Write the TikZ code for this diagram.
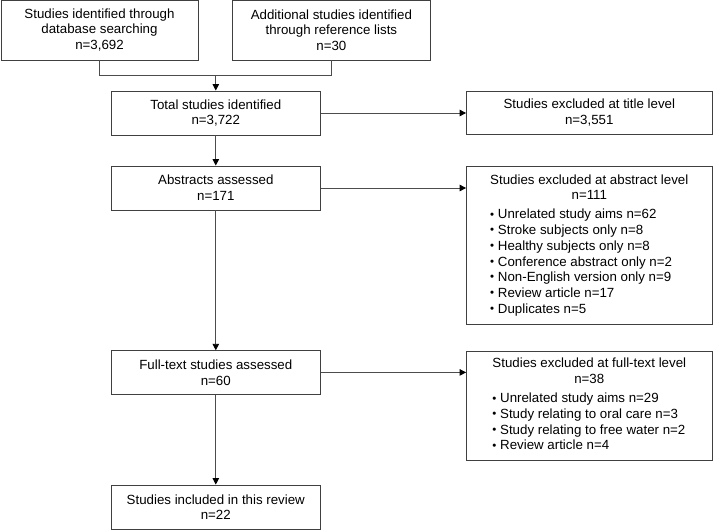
\documentclass[tikz,border=0pt]{standalone}
\usepackage{fontspec}
\setmainfont{Liberation Sans}
\usepackage{tikz}
\usetikzlibrary{arrows.meta}

\newcommand{\smallbullet}{\raisebox{0.8pt}{\fontsize{11.5}{11.5}\selectfont\textbullet}\ }

\begin{document}
\begin{tikzpicture}[
	  x=1pt,y=-1pt,
	  every node/.style={font=\fontsize{13.3}{15.7}\selectfont},
	  box/.style={draw=black!75,line width=0.9pt,align=center,inner sep=2pt,minimum height=44pt},
	  leftbox/.style={box,minimum width=209.5pt},
	  exclbox/.style={box,minimum width=245.5pt},
	  link/.style={draw=black!70,line width=0.9pt},
	  flow/.style={link,-{Triangle[length=6.5pt,width=6.5pt,color=black]}}
	]
		\useasboundingbox (0,0) rectangle (713,530);
		\node [box,minimum width=197pt,minimum height=60pt] (dbsearch) at (99.5,30)
			{Studies identified through\\database searching\\n=3,692};
		\node [box,minimum width=197.3pt,minimum height=60pt] (refsearch) at (331.35,30)
			{Additional studies identified\\through reference lists\\n=30};
		\node [leftbox] (total) at (215.8,113) {Total studies identified\\n=3,722};
		\node [exclbox,minimum height=43pt] (titleexcl) at (589.3,112.5)
			{Studies excluded at title level\\n=3,551};
		\node [leftbox] (abstracts) at (215.8,188) {Abstracts assessed\\n=171};
		\node [exclbox,minimum height=157.6pt] (abstractexcl) at (589.3,245.5) {%
			\begin{tabular}{@{}l@{}}
				\multicolumn{1}{@{}c@{}}{Studies excluded at abstract level}\\
				\multicolumn{1}{@{}c@{}}{n=111}\\[3.5pt]
				\smallbullet Unrelated study aims n=62\\
				\smallbullet Stroke subjects only n=8\\
				\smallbullet Healthy subjects only n=8\\
				\smallbullet Conference abstract only n=2\\
				\smallbullet Non-English version only n=9\\
				\smallbullet Review article n=17\\
				\smallbullet Duplicates n=5
			\end{tabular}};
		\node [leftbox,minimum height=43.3pt] (fulltext) at (215.8,372.4)
			{Full-text studies assessed\\n=60};
		\node [exclbox,minimum height=109.7pt] (fulltextexcl) at (589.3,405.8) {%
			\begin{tabular}{@{}l@{}}
				\multicolumn{1}{@{}c@{}}{Studies excluded at full-text level}\\
				\multicolumn{1}{@{}c@{}}{n=38}\\[3.5pt]
				\smallbullet Unrelated study aims n=29\\
				\smallbullet Study relating to oral care n=3\\
				\smallbullet Study relating to free water n=2\\
				\smallbullet Review article n=4
			\end{tabular}};
		\node [leftbox,minimum height=44.5pt] (included) at (215.8,507.3)
			{Studies included in this review\\n=22};
		% merging the two sources
		\coordinate (merge) at (215.8,75.3);
		\draw [link] (dbsearch.south) |- (merge) -| (refsearch.south);
		\draw [flow] (merge) -- (total.north);
		\draw [flow] (total) -- (abstracts);
		\draw [flow] (abstracts) -- (fulltext);
		\draw [flow] (fulltext) -- (included);
		% exclusions
		\draw [flow] (total.east) -- (total.east -| titleexcl.west);
		\draw [flow] (abstracts.east) -- (abstracts.east -| abstractexcl.west);
		\draw [flow] (fulltext.east) -- (fulltext.east -| fulltextexcl.west);
	\end{tikzpicture}
\end{document}
